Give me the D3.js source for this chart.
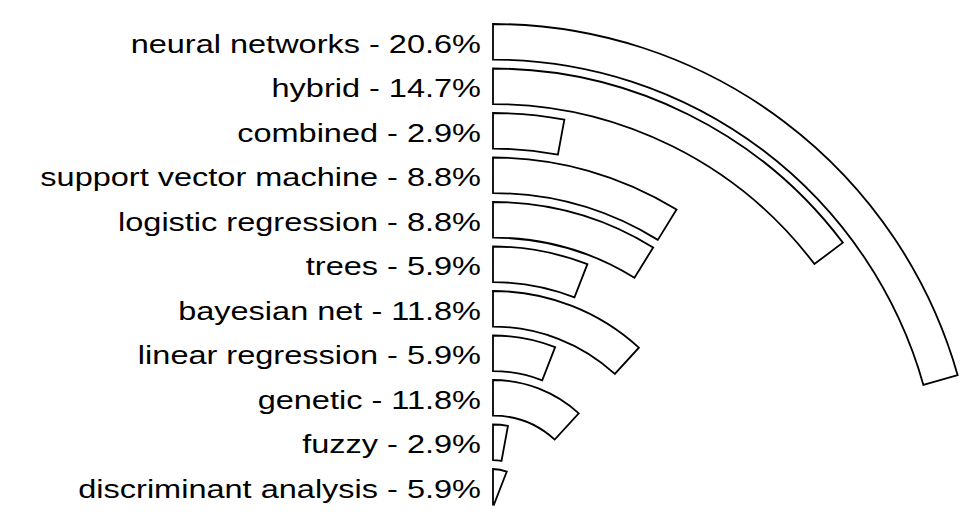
<!DOCTYPE html>
<html>
<head>
<meta charset="utf-8">
<style>
  body { margin: 0; background: #fff; }
  .bar { fill: #fff; stroke: #000; stroke-width: 1.8; stroke-linejoin: miter; }
  .label { font-family: "Liberation Sans", Arial, sans-serif; font-size: 26px; fill: #000; }
</style>
</head>
<body>
<svg id="chart" width="960" height="529"></svg>
<script src="https://cdn.jsdelivr.net/npm/d3@7/dist/d3.min.js"></script>
<script>
// categories from outermost ring (top) to innermost
const categories = [
  'neural networks', 'hybrid', 'combined', 'support vector machine',
  'logistic regression', 'trees', 'bayesian net', 'linear regression',
  'genetic', 'fuzzy', 'discriminant analysis'
];
const shares = [20.6, 14.7, 2.9, 8.8, 8.8, 5.9, 11.8, 5.9, 11.8, 2.9, 5.9];
const shareLabels = ['20.6%', '14.7%', '2.9%', '8.8%', '8.8%', '5.9%', '11.8%', '5.9%', '11.8%', '2.9%', '5.9%'];

const data = categories.map((c, i) => ({name: c, value: shares[i], label: shareLabels[i]}));

const width = 960, height = 529;
const cx = 493, cy = 507;
const outerR = 483;
const labelX = 481;
const stretch = 1.25; // labels come out wide in the original render

const svg = d3.select('#chart');

// radial band scale, innermost category nearest the centre
const r = d3.scaleBand()
  .domain(categories.slice().reverse())
  .range([2.4, outerR])
  .paddingInner(0.2)
  .paddingOuter(0);

const angle = d3.scaleLinear().domain([0, 100]).range([0, 2 * Math.PI]);

const arc = d3.arc()
  .innerRadius(d => r(d.name))
  .outerRadius(d => r(d.name) + r.bandwidth())
  .startAngle(0)
  .endAngle(d => angle(d.value));

svg.append('g')
  .attr('transform', `translate(${cx},${cy})`)
  .selectAll('path')
  .data(data)
  .join('path')
    .attr('class', 'bar')
    .attr('d', arc);

svg.append('g')
  .selectAll('text')
  .data(data)
  .join('text')
    .attr('class', 'label')
    .attr('text-anchor', 'end')
    .attr('dy', '0.42em')
    .attr('transform', d => `translate(${labelX},${cy - r(d.name) - r.bandwidth() / 2}) scale(${stretch},1)`)
    .text(d => `${d.name} - ${d.label}`);
</script>
</body>
</html>
